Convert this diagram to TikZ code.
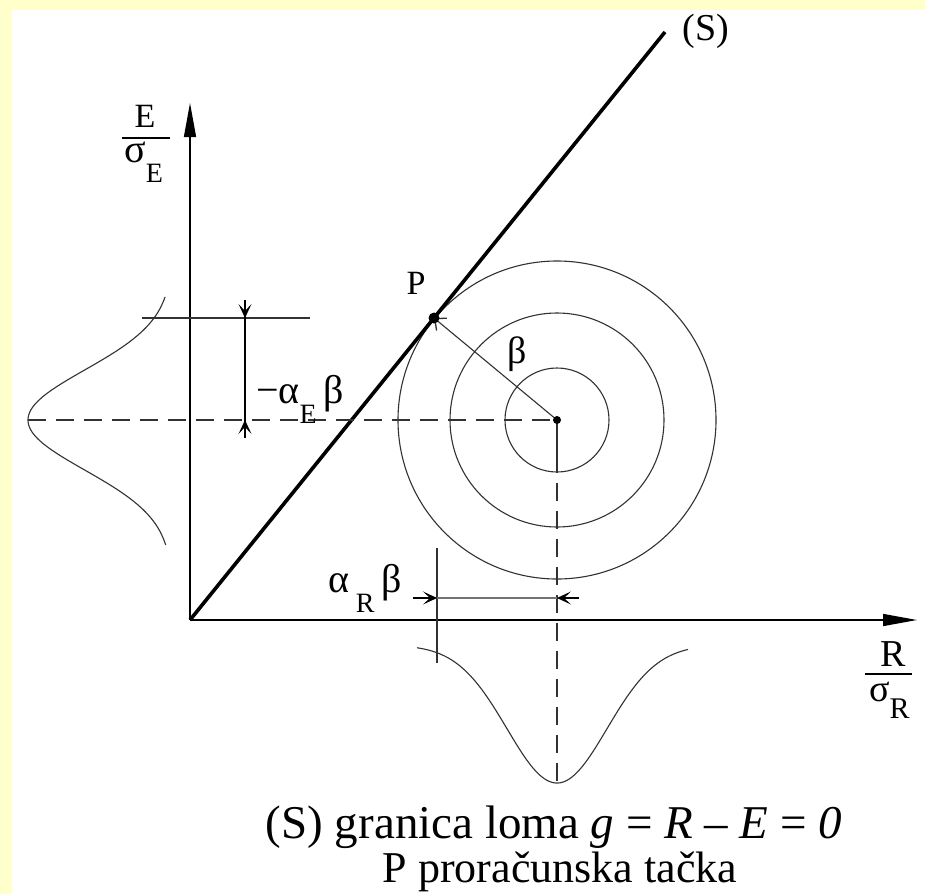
\documentclass[tikz,border=0pt]{standalone}
\usepackage{fontspec}
\setmainfont{Liberation Serif}
\usetikzlibrary{arrows.meta}
\definecolor{bgyellow}{RGB}{255,255,204}
\definecolor{linegray}{RGB}{50,50,50}
\begin{document}
\begin{tikzpicture}[x=1pt,y=-1pt,
  thinline/.style={line width=1.1pt, draw=linegray},
  dashline/.style={line width=1.1pt, draw=linegray, dash pattern=on 18pt off 10pt},
  axisline/.style={line width=1.4pt, draw=black, -{Triangle[length=34pt,width=12pt]}},
  dimline/.style={line width=1.4pt, draw=black},
  dimtip/.style={line width=1.2pt, draw=black, -{Stealth[length=14pt,width=13pt,inset=7pt]}},
  lbl/.style={inner sep=0pt, font=\fontsize{34}{34}\selectfont},
  glbl/.style={inner sep=0pt, font=\fontsize{40}{40}\selectfont},
  ]
\useasboundingbox (0,0) rectangle (925,894);
\fill[bgyellow] (0,0) rectangle (925,894);
\fill[white] (12,10) rectangle (925,894);

% key points
\coordinate (O) at (190,620);
\coordinate (Ytip) at (190,103);
\coordinate (Xtip) at (917,620);
\coordinate (Stop) at (665,32);
\coordinate (P) at (434,318);
\coordinate (C) at (557,420);
\coordinate (Lpeak) at (28,420);
\coordinate (Csub) at (557,455);
\coordinate (Bpeak) at (557,783);
\coordinate (HlA) at (142,318);
\coordinate (HlB) at (310,318);
\coordinate (VdA) at (245,300);
\coordinate (VdB) at (245,438);
\coordinate (VdT) at (245,318);
\coordinate (VdU) at (245,420);
\coordinate (TkA) at (437,548);
\coordinate (TkB) at (437,663);
\coordinate (HdL) at (413,598);
\coordinate (HdA) at (437,598);
\coordinate (HdB) at (557,598);
\coordinate (HdR) at (579,598);

% circles
\draw[thinline] (C) circle[radius=52pt];
\draw[thinline] (C) circle[radius=107pt];
\draw[thinline] (C) circle[radius=159pt];

% axes
\draw[axisline] (O) -- (Ytip);
\draw[axisline] (O) -- (Xtip);

% limit state line
\draw[line width=3.6pt] (O) -- (Stop);

% dashed lines
\draw[dashline] (Lpeak) -- (C);
\draw[thinline] (C) -- (Csub);
\draw[dashline] (Csub) -- (Bpeak);

% horizontal at P level
\draw[thinline] (HlA) -- (HlB);

% vertical dimension
\draw[dimline] (VdA) -- (VdB);
\draw[dimtip] (VdA) -- (VdT);
\draw[dimtip] (VdB) -- (VdU);

% horizontal dimension
\draw[thinline] (TkA) -- (TkB);
\draw[line width=2pt, draw=black!55] (HdA) -- (HdB);
\draw[dimtip] (HdL) -- (HdA);
\draw[dimtip] (HdR) -- (HdB);

% distributions
\draw[thinline] plot[domain=297:545,samples=120,smooth]
  ({172-144*exp(-0.5*((\x-420)/50)^2)},\x);
\draw[thinline] plot[domain=417:688,samples=120,smooth]
  (\x,{645+138*exp(-0.5*((\x-557)/50)^2)});

% beta arrow and points
\draw[thinline, -{Straight Barb[length=9pt,width=16pt,line width=1.3pt]}] (C) -- (P);
\fill (P) circle[radius=5.5pt];
\fill (C) circle[radius=4pt];

% labels
\node[font=\fontsize{38}{38}\selectfont, inner sep=0pt] (Slbl) at (706,31) {(S)};
\node[lbl] (Plbl) at (416,283) {P};
\node[font=\fontsize{38}{38}\selectfont, inner sep=0pt] (blbl) at (517,354) {β};

\node[lbl] (EN) at (145,116) {E};
\draw[line width=1.4pt] (122,138) -- (170,138);
\node[font=\fontsize{40}{40}\selectfont, inner sep=0pt, anchor=base west] (ED) at (124,162) {σ\raisebox{-0.5em}{\fontsize{28}{28}\selectfont E}};

\node[font=\fontsize{38}{38}\selectfont, inner sep=0pt] (RN) at (893,654) {R};
\draw[line width=1.4pt] (865,674) -- (912,674);
\node[font=\fontsize{38}{38}\selectfont, inner sep=0pt, anchor=base west] (RD) at (869,701) {σ\raisebox{-0.45em}{\fontsize{30}{30}\selectfont R}};

\node[glbl, anchor=base west] (aE) at (256,403) {−α\raisebox{-0.5em}{\fontsize{28}{28}\selectfont E}\,β};
\node[glbl, anchor=base west] (aR) at (328,592) {α\,\raisebox{-0.5em}{\fontsize{28}{28}\selectfont R}\,β};

\node[font=\fontsize{47}{47}\selectfont, inner sep=0pt, anchor=base] (cap1) at (554,838)
  {(S) granica loma \textit{g} = \textit{R} – \textit{E} = \textit{0}};
\node[font=\fontsize{44}{44}\selectfont, inner sep=0pt, anchor=base] (cap2) at (560,882)
  {P proračunska tačka};
\end{tikzpicture}
\end{document}
